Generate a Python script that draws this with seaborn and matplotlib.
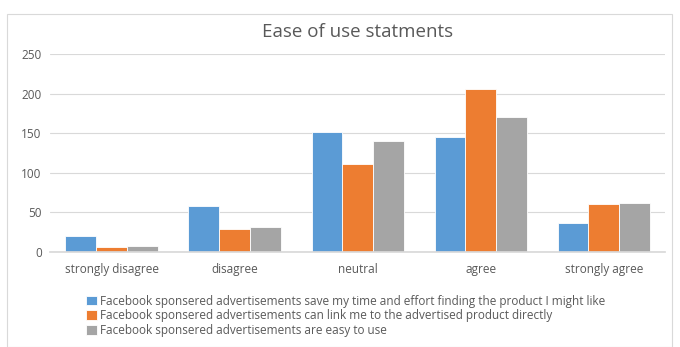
import pandas as pd
import seaborn as sns
import matplotlib.pyplot as plt
from matplotlib.patches import Rectangle

categories = ['strongly disagree', 'disagree', 'neutral', 'agree', 'strongly agree']
series_names = [
    'Facebook sponsered advertisements save my time and effort finding the product I might like',
    'Facebook sponsered advertisements can link me to the advertised product directly',
    'Facebook sponsered advertisements are easy to use',
]
save_time = [20, 58, 152, 145, 37]
link_direct = [6, 29, 111, 206, 60]
easy_use = [8, 31, 140, 171, 62]
colors = ['#5B9BD5', '#ED7D31', '#A5A5A5']

rows = []
for name, vals in zip(series_names, [save_time, link_direct, easy_use]):
    for c, v in zip(categories, vals):
        rows.append({'category': c, 'series': name, 'value': v})
df = pd.DataFrame(rows)

sns.set_theme(style='white')
plt.rcParams['font.family'] = ['Open Sans', 'DejaVu Sans']
txt = '#595959'

fig = plt.figure(figsize=(6.8, 3.47), dpi=100)
ax = fig.add_axes([0.0735, 0.274, 0.905, 0.570])
sns.barplot(data=df, x='category', y='value', hue='series', palette=colors,
            saturation=1, width=0.75, edgecolor='white', linewidth=0.6, ax=ax)

ax.set_ylim(0, 250)
ax.set_yticks(range(0, 251, 50))
ax.yaxis.grid(True, color='#D9D9D9', linewidth=0.8)
ax.set_axisbelow(True)
for s in ax.spines.values():
    s.set_visible(False)
ax.spines['bottom'].set_visible(True)
ax.spines['bottom'].set_color('#D9D9D9')
ax.set_xlabel('')
ax.set_ylabel('')
ax.tick_params(axis='both', length=0, labelsize=8.5, labelcolor=txt)
ax.tick_params(axis='x', pad=8)
ax.tick_params(axis='y', pad=6)
ax.set_title('Ease of use statments', fontsize=13.5, color=txt, pad=12)

handles, labels = ax.get_legend_handles_labels()
ax.legend_.remove()
fig.legend(handles, labels, loc='upper left', bbox_to_anchor=(0.118, 0.168),
           frameon=False, fontsize=8.5, labelcolor=txt, handlelength=0.9,
           handleheight=0.9, handletextpad=0.3, labelspacing=0.15, borderpad=0)

fig.patches.append(Rectangle((7 / 680, 0), 665 / 680, 333 / 347, transform=fig.transFigure,
                             fill=False, edgecolor='#D9D9D9', linewidth=0.8))

fig.savefig('out.png', dpi=100)
